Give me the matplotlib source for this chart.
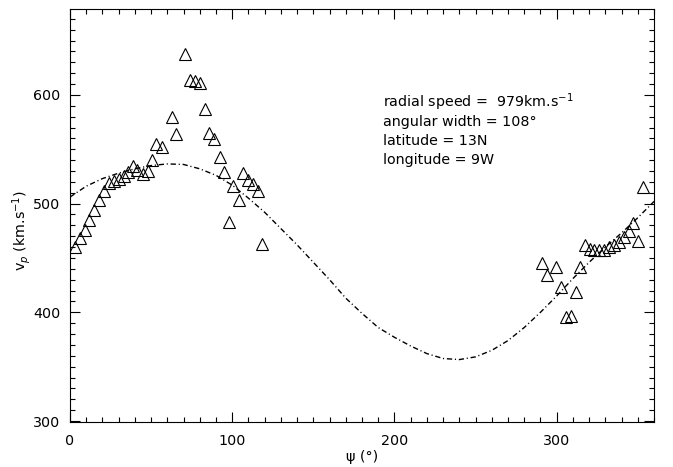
import matplotlib
matplotlib.use('Agg')
import matplotlib.pyplot as plt
from matplotlib.ticker import MultipleLocator

# observed points (psi in degrees, speed in km/s)
psi_obs = [2.9, 6.0, 9.0, 12.0, 15.0, 18.0, 21.0, 24.0, 27.0, 30.0,
           33.0, 36.0, 39.0, 41.6, 44.7, 48.0, 50.6, 53.3, 56.6, 62.8,
           65.2, 70.8, 73.9, 77.0, 80.0, 83.0, 85.6, 88.7, 92.4, 94.9,
           98.1, 100.6, 104.0, 106.8, 109.7, 113.0, 115.9, 118.5,
           291.0, 293.9, 299.8, 302.7, 305.6, 308.7, 311.7, 314.6, 317.5,
           320.4, 323.3, 326.2, 329.3, 332.3, 335.4, 338.3, 341.4, 344.3,
           347.0, 350.3, 353.1]
v_obs = [460, 468, 476, 485, 494, 503, 512, 519, 521, 523,
         525, 529, 535, 531, 527, 530, 540, 555, 552, 580,
         564, 638, 614, 613, 611, 587, 565, 559, 543, 529,
         483, 516, 503, 528, 522, 518, 512, 463,
         445, 434, 442, 423, 396, 397, 419, 442, 462,
         458, 457, 457, 457, 460, 462, 465, 469, 475,
         482, 466, 515]

# model curve
psi_fit = [0, 10, 20, 30, 40, 50, 60, 70, 80, 90, 100, 110, 120, 130, 140,
           150, 160, 170, 180, 190, 200, 210, 220, 230, 240, 250, 260, 270,
           280, 290, 300, 310, 320, 330, 340, 350, 360]
v_fit = [506, 516, 523, 528, 532, 535, 536.5, 536, 532, 526, 517, 505, 492,
         477, 462, 446, 430, 413, 399, 386, 377, 369, 362, 357.5, 356.5, 359,
         365, 374, 386, 400, 415, 431, 446, 460, 473, 487, 502]

info = ["radial speed =  979km.s$^{-1}$",
        "angular width = 108°",
        "latitude = 13N",
        "longitude = 9W"]

plt.rcParams['font.family'] = 'DejaVu Sans'
plt.rcParams['mathtext.fontset'] = 'dejavusans'
fs = 10.3

fig = plt.figure(figsize=(6.73, 4.67), dpi=100)
ax = fig.add_axes([0.104, 0.0957, 0.8678, 0.885])

ax.plot(psi_fit, v_fit, color='black', lw=1.0, dashes=(3.8, 2, 0.8, 2))
ax.plot(psi_obs, v_obs, ls='none', marker='^', ms=8, mfc='none',
        mec='black', mew=0.8)

ax.set_xlim(0, 360)
ax.set_ylim(298.8, 679)
ax.xaxis.set_major_locator(MultipleLocator(100))
ax.xaxis.set_minor_locator(MultipleLocator(10))
ax.yaxis.set_major_locator(MultipleLocator(100))
ax.yaxis.set_minor_locator(MultipleLocator(10))
ax.tick_params(which='both', direction='in', top=True, right=True,
               width=0.8, labelsize=fs)
ax.tick_params(which='major', length=7.5)
ax.tick_params(which='minor', length=3.5)
ax.tick_params(axis='x', pad=8.5)
ax.tick_params(axis='y', pad=7)
for s in ax.spines.values():
    s.set_linewidth(0.8)

ax.set_xlabel('ψ (°)', fontsize=fs, labelpad=1)
ax.set_ylabel('v$_p$ (km.s$^{-1}$)', fontsize=fs)
ax.yaxis.set_label_coords(-0.063, 0.465)

ys = [0.763, 0.717, 0.671, 0.625]
for t, y in zip(info, ys):
    ax.text(0.536, y, t, transform=ax.transAxes, fontsize=fs, va='baseline')

fig.savefig('out.png', dpi=100)
